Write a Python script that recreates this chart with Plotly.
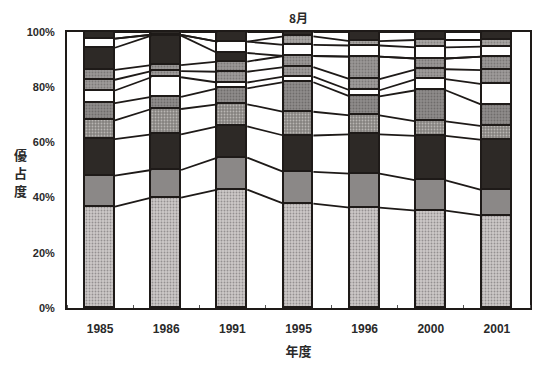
import numpy as np
import plotly.graph_objects as go

# Survey years (x categories)
years = ["1985", "1986", "1991", "1995", "1996", "2000", "2001"]

# Dominance (%) of each group per year, listed from the bottom of the stack upward
s01 = [36.7, 40.0, 42.9, 37.8, 36.4, 35.3, 33.5]
s02 = [11.3, 10.0, 11.6, 11.5, 12.3, 10.9, 9.2]
s03 = [13.2, 12.9, 11.3, 13.2, 14.2, 16.2, 18.2]
s04 = [6.8, 9.2, 8.0, 8.6, 6.9, 5.2, 5.0]
s05 = [6.2, 4.4, 5.8, 10.7, 6.9, 11.3, 7.7]
s06 = [4.6, 7.1, 2.1, 2.0, 2.2, 4.0, 7.5]
s07 = [3.9, 2.2, 3.9, 3.5, 4.0, 3.6, 5.1]
s08 = [3.6, 2.2, 3.7, 4.0, 8.2, 3.9, 4.9]
s09 = [8.0, 10.7, 3.1, 0.0, 0.0, 0.0, 0.0]
s10 = [3.3, 0.3, 4.1, 4.0, 4.0, 4.0, 3.6]
s11 = [0.0, 0.0, 0.0, 3.1, 1.6, 2.7, 2.4]
s12 = [2.4, 1.0, 3.5, 1.6, 3.3, 2.9, 2.9]

y_ticks = [0, 20, 40, 60, 80, 100]
y_caption = ["優", "占", "度"]

series = [s01, s02, s03, s04, s05, s06, s07, s08, s09, s10, s11, s12]

DARK = "#2d2926"
# fill colour, pattern shape, pattern colour for each stacked group
styles = [
    ("#cdc9c8", ".", "#949090"),
    ("#8b8887", "", None),
    (DARK, "", None),
    ("#85827f", ".", "#b9b6b3"),
    ("#8f8c8b", ".", "#6f6c6b"),
    ("#ffffff", "", None),
    ("#9e9b9a", ".", "#7d7a79"),
    ("#9a9796", ".", "#7a7776"),
    (DARK, "", None),
    ("#ffffff", "", None),
    ("#a8a5a3", ".", "#878482"),
    (DARK, "", None),
]

x = np.arange(len(years))
bar_w = 0.45

fig = go.Figure()

for vals, (col, shp, fg) in zip(series, styles):
    marker = dict(color=col, line=dict(color="#1e1a18", width=1.8))
    if shp:
        marker["pattern"] = dict(shape=shp, fgcolor=fg, bgcolor=col,
                                 size=3, solidity=0.3, fillmode="replace")
    fig.add_trace(go.Bar(x=x, y=vals, width=bar_w, marker=marker,
                         showlegend=False, hoverinfo="skip"))

# Series lines joining the top of each group from one bar to the next
tops = np.cumsum(np.array(series, dtype=float), axis=0)
for row in tops:
    lx, ly = [], []
    for i in range(len(years) - 1):
        lx += [x[i] + bar_w / 2, x[i + 1] - bar_w / 2, None]
        ly += [row[i], row[i + 1], None]
    fig.add_trace(go.Scatter(x=lx, y=ly, mode="lines",
                             line=dict(color="#1e1a18", width=1.8),
                             showlegend=False, hoverinfo="skip"))

TXT = "#2a2a2a"
fig.update_layout(
    barmode="stack",
    bargap=0,
    width=539, height=370,
    margin=dict(l=67, r=7, t=32, b=62),
    paper_bgcolor="white", plot_bgcolor="white",
    font=dict(family="Liberation Sans, Arial, sans-serif", size=12, color=TXT),
    title=dict(text="<b>8月</b>", x=0.5, xref="paper", y=0.95, yref="container",
               xanchor="center", yanchor="middle",
               font=dict(family="Noto Sans CJK JP", size=12, color=TXT)),
)

fig.update_xaxes(
    range=[-0.5, len(years) - 0.5],
    tickvals=list(x), ticktext=[f"<b>{y}</b>" for y in years],
    ticks="", showgrid=False, zeroline=False,
    ticklabelstandoff=9,
    showline=True, linecolor="#1e1a18", linewidth=2, mirror=True,
    minor=dict(tick0=0.5, dtick=1, ticks="inside", ticklen=3,
               tickcolor="#555", tickwidth=1, showgrid=False),
    tickfont=dict(size=12, color=TXT),
    title=dict(text="<b>年度</b>", standoff=11,
               font=dict(family="Noto Sans CJK JP", size=13, color=TXT)),
)

fig.update_yaxes(
    range=[0, 100],
    tickvals=y_ticks, ticktext=[f"<b>{v}%</b>" for v in y_ticks],
    ticks="", showgrid=False, zeroline=False,
    ticklabelstandoff=8,
    showline=True, linecolor="#1e1a18", linewidth=2, mirror=True,
    tickfont=dict(size=11, color=TXT),
)

# Vertical axis caption, stacked one character at a time
for k, ch in enumerate(y_caption):
    fig.add_annotation(text=f"<b>{ch}</b>", xref="paper", yref="paper",
                       x=-0.1, y=0.555 - 0.064 * k,
                       xanchor="center", yanchor="middle", showarrow=False,
                       font=dict(family="Noto Sans CJK JP", size=13, color=TXT))

fig.write_html("out.html")
